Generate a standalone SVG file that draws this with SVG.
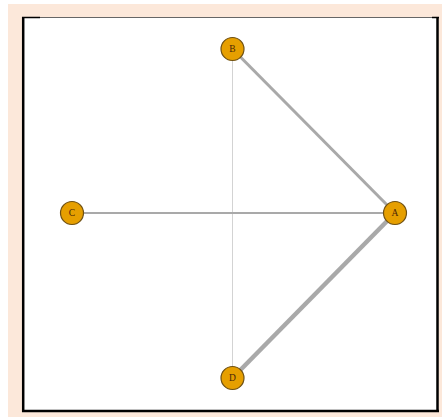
<svg xmlns="http://www.w3.org/2000/svg" width="442" height="417" viewBox="0 0 442 417">
<style>
.node circle{fill:#e69f00;stroke:#6e5014;stroke-width:1.2}
.node text{font-family:"Liberation Serif",serif;font-size:9.5px;fill:#4a2508;text-anchor:middle;dominant-baseline:central}
.edge{stroke:#a9a9a9;fill:none}
</style>
<rect x="0" y="0" width="442" height="417" fill="#ffffff"/>
<rect x="8" y="4" width="434" height="413" fill="#fce8da"/>
<rect x="23" y="17" width="415" height="394" fill="#ffffff"/>
<g id="frame">
<line x1="23" y1="17.5" x2="437" y2="17.5" stroke="#666" stroke-width="1"/>
<line x1="22" y1="17.5" x2="40" y2="17.5" stroke="#000" stroke-width="1.5"/>
<line x1="432" y1="17.5" x2="439" y2="17.5" stroke="#000" stroke-width="1.5"/>
<line x1="23.2" y1="17" x2="23.2" y2="412" stroke="#000" stroke-width="2.5"/>
<line x1="22" y1="411" x2="439" y2="411" stroke="#000" stroke-width="2.5"/>
<line x1="437.5" y1="17" x2="437.5" y2="412" stroke="#000" stroke-width="2.5"/>
</g>
<g id="connectors">
<line class="edge" x1="232.5" y1="49" x2="232.5" y2="378" style="stroke:#d3d3d3;stroke-width:1"/>
<line class="edge" x1="72" y1="213" x2="395" y2="213" stroke-width="2"/>
<line class="edge" x1="232.5" y1="49" x2="395" y2="213" stroke-width="3"/>
<line class="edge" x1="395" y1="213" x2="232.5" y2="378" stroke-width="4.5"/>
</g>
<g id="B" class="node"><circle cx="232.5" cy="49" r="11.5"/><text x="232.5" y="49">B</text></g>
<g id="C" class="node"><circle cx="72" cy="213" r="11.5"/><text x="72" y="213">C</text></g>
<g id="A" class="node"><circle cx="395" cy="213" r="11.5"/><text x="395" y="213">A</text></g>
<g id="D" class="node"><circle cx="232.5" cy="378" r="11.5"/><text x="232.5" y="378">D</text></g>
</svg>
